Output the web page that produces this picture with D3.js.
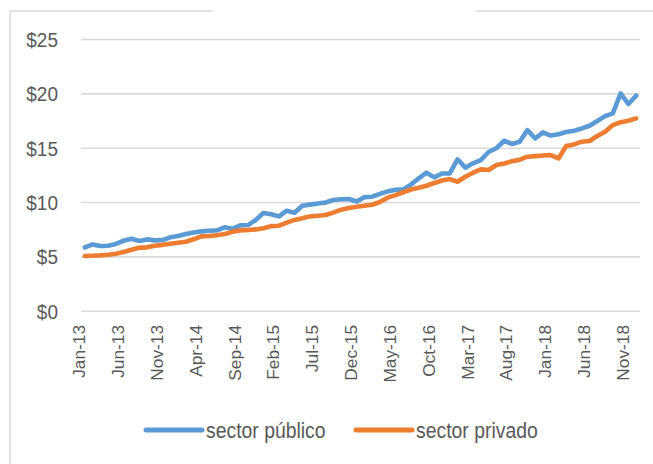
<!DOCTYPE html>
<html>
<head>
<meta charset="utf-8">
<script src="https://cdn.jsdelivr.net/npm/d3@7"></script>
<style>
  html, body { margin: 0; padding: 0; background: #fff; }
  svg { display: block; font-family: "Liberation Sans", Arial, sans-serif; }
</style>
</head>
<body>
<svg id="chart" width="653" height="464"></svg>
<script>
// monthly series, Jan-13 .. Dec-18
const startMonth = new Date(2013, 0, 1)
const publico = [
  5.83, 6.10, 5.95, 5.98, 6.14, 6.44, 6.62, 6.41, 6.56, 6.47, 6.50, 6.75,
  6.88, 7.05, 7.20, 7.30, 7.36, 7.39, 7.67, 7.54, 7.85, 7.88, 8.34, 8.99,
  8.88, 8.68, 9.20, 9.02, 9.66, 9.76, 9.86, 9.95, 10.18, 10.25, 10.28, 10.05,
  10.45, 10.49, 10.75, 10.98, 11.12, 11.16, 11.60, 12.18, 12.70, 12.27, 12.62, 12.64,
  13.93, 13.16, 13.56, 13.85, 14.60, 14.95, 15.64, 15.34, 15.55, 16.62, 15.85, 16.41,
  16.12, 16.24, 16.45, 16.56, 16.77, 17.02, 17.45, 17.90, 18.15, 20.00, 19.02, 19.78
]
const privado = [
  5.03, 5.06, 5.09, 5.15, 5.24, 5.40, 5.60, 5.80, 5.83, 5.98, 6.06, 6.16,
  6.25, 6.35, 6.57, 6.84, 6.87, 6.95, 7.05, 7.27, 7.39, 7.43, 7.48, 7.58,
  7.78, 7.82, 8.10, 8.35, 8.50, 8.68, 8.73, 8.80, 9.02, 9.30, 9.45, 9.57,
  9.65, 9.75, 10.00, 10.40, 10.64, 10.90, 11.15, 11.31, 11.50, 11.75, 11.98, 12.11,
  11.87, 12.33, 12.70, 13.00, 12.95, 13.41, 13.55, 13.75, 13.90, 14.17, 14.22, 14.28,
  14.32, 14.01, 15.15, 15.30, 15.55, 15.61, 16.07, 16.47, 17.08, 17.35, 17.48, 17.70
]
const tickLabels = ['Jan-13','Jun-13','Nov-13','Apr-14','Sep-14','Feb-15','Jul-15','Dec-15',
  'May-16','Oct-16','Mar-17','Aug-17','Jan-18','Jun-18','Nov-18']
const yTicks = [0, 5, 10, 15, 20, 25]
const seriesNames = ['sector público', 'sector privado']
const seriesColors = ['#5B9BD5', '#ED7D31']

const months = d3.range(publico.length).map(i => d3.timeMonth.offset(startMonth, i))
const svg = d3.select('#chart')
const textColor = '#595959'
const gridColor = '#d9d9d9'

// outer frame (top edge broken where the title used to be)
svg.append('path')
  .attr('d', 'M653,11H476M213,11H10V464')
  .attr('fill', 'none').attr('stroke', gridColor).attr('stroke-width', 1.5)

const x = d3.scaleBand().domain(d3.range(months.length)).range([81, 640])
const xc = i => x(i) + x.bandwidth()/2
const y = d3.scaleLinear().domain([0, 25]).range([310.7, 39])

// gridlines + y labels
const yAxis = d3.axisLeft(y).tickValues(yTicks).tickSize(-(640-81)).tickFormat(d => '$' + d)
const gy = svg.append('g').attr('transform', 'translate(81,0)').call(yAxis)
gy.select('.domain').remove()
gy.selectAll('.tick line').attr('stroke', gridColor).attr('stroke-width', 1.6)
gy.selectAll('.tick text').remove()
gy.selectAll('.tick').append('text')
  .attr('transform', 'translate(-23,0) scale(1,1.1)')
  .attr('text-anchor', 'end').attr('dy', '0.36em')
  .attr('fill', textColor).style('font-size', '19px')
  .text(d => '$' + d)

// x labels
const fmt = d3.timeFormat('%b-%y')
const gx = svg.append('g')
gx.selectAll('text').data(d3.range(months.length).filter(i => tickLabels.includes(fmt(months[i]))))
  .join('text')
  .attr('transform', i => `translate(${xc(i) + 0.5},325) rotate(-90) scale(1.08,1)`)
  .attr('text-anchor', 'end')
  .attr('fill', textColor).style('font-size', '16px')
  .text(i => fmt(months[i]))

// lines
const line = d3.line().x((d, i) => xc(i)).y(d => y(d))
;[publico, privado].forEach((s, k) => {
  svg.append('path').datum(s)
    .attr('d', line)
    .attr('fill', 'none')
    .attr('stroke', seriesColors[k])
    .attr('stroke-width', 4.6)
    .attr('stroke-linejoin', 'round')
    .attr('stroke-linecap', 'round')
})

// legend
const legendX = [146, 356]
const lg = svg.append('g').selectAll('g').data(seriesNames).join('g')
  .attr('transform', (d, k) => `translate(${legendX[k]},430)`)
lg.append('line').attr('x1', 0).attr('x2', 56).attr('y1', 0).attr('y2', 0)
  .attr('stroke', (d, k) => seriesColors[k]).attr('stroke-width', 5).attr('stroke-linecap', 'round')
lg.append('text')
  .attr('transform', 'translate(60,8) scale(1,1.1)')
  .attr('fill', textColor).style('font-size', '19.4px')
  .text(d => d)
</script>
</body>
</html>
